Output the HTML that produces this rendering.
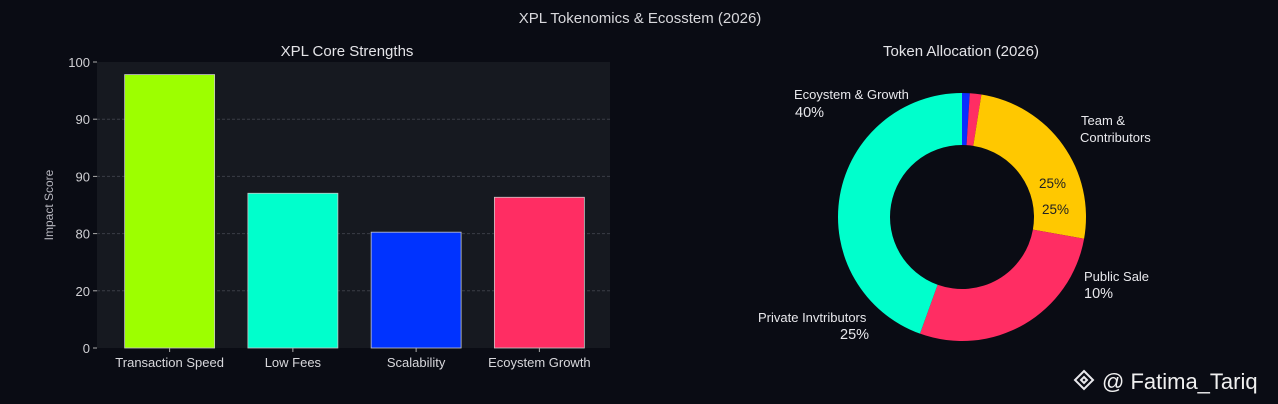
<!DOCTYPE html>
<html><head><meta charset="utf-8"><style>
html,body{margin:0;padding:0;background:#0a0c14;}
svg{display:block;font-family:"Liberation Sans",sans-serif;}
</style></head><body>
<svg id="c" width="1278" height="404" viewBox="0 0 1278 404">
<rect width="1278" height="404" fill="#0a0c14"/>
<text x="640" y="23" fill="#d8d8dc" font-size="15" text-anchor="middle">XPL Tokenomics &amp; Ecosstem (2026)</text>
<text x="347" y="56" fill="#e4e4e8" font-size="15" text-anchor="middle">XPL Core Strengths</text>
<rect x="97" y="62" width="513" height="286" fill="#161920"/>
<text transform="translate(53,205) rotate(-90)" fill="#b8b8c0" font-size="12" text-anchor="middle">Impact Score</text>
<g id="bars"></g>
<text x="961" y="56" fill="#e4e4e8" font-size="15" text-anchor="middle">Token Allocation (2026)</text>
<g id="donut"></g>
<text x="794" y="99" fill="#e8e8ec" font-size="13">Ecoystem &amp; Growth</text>
<text x="795" y="117" fill="#e8e8ec" font-size="14.5">40%</text>
<text x="1081" y="125" fill="#e8e8ec" font-size="13">Team &amp;</text>
<text x="1080" y="142" fill="#e8e8ec" font-size="13">Contributors</text>
<text x="1039" y="188" fill="#222" font-size="13.5">25%</text>
<text x="1042" y="214" fill="#222" font-size="13.5">25%</text>
<text x="1084" y="281" fill="#e8e8ec" font-size="13">Public Sale</text>
<text x="1084" y="298" fill="#e8e8ec" font-size="14.5">10%</text>
<text x="758" y="322" fill="#e8e8ec" font-size="13">Private Invtributors</text>
<text x="840" y="339" fill="#e8e8ec" font-size="14.5">25%</text>
<g>
<g transform="translate(1084,380)" fill="none" stroke="#e8e8ec" stroke-width="2"><path d="M0,-9 L9,0 L0,9 L-9,0 Z"/><path d="M0,-3 L3,0 L0,3 L-3,0 Z"/></g>
<text x="1102" y="389" fill="#f0f0f0" font-size="22">@ Fatima_Tariq</text>
</g>
</svg>
<script>
const categories=["Transaction Speed","Low Fees","Scalability","Ecoystem Growth"];
const scores=[95.6,54.1,40.5,52.7];
const barColors=["#9dff00","#00ffcc","#0033ff","#ff2d63"];
const tickValues=[0,20,40,60,80,100];
const tickLabels=["0","20","80","90","90","100"];
const sliceNames=["Blue","Pink small","Team & Contributors","Public Sale","Ecosystem & Growth"];
const sliceValues=[1,1.5,25.3,27.7,44.5];
const sliceColors=["#0a2cff","#ff2d63","#ffc800","#ff2d63","#00ffcc"];
const NS="http://www.w3.org/2000/svg";
function mk(t,a,p){const e=document.createElementNS(NS,t);for(const k in a)e.setAttribute(k,a[k]);p.appendChild(e);return e;}
const x0=97,x1=610,y0=348,y1=62;
const bx0=108,bx1=601;
const yS=v=>y0-(v/100)*(y0-y1);
const band=(bx1-bx0)/categories.length;
const xS=i=>bx0+band*i+band/2;
const g=document.getElementById('bars');
tickValues.forEach((v,i)=>{
  const y=yS(v);
  if(v>0&&v<100){const l=mk('line',{x1:x0,x2:x1,y1:y,y2:y,stroke:'#3a3d46','stroke-dasharray':'3,2','stroke-width':1},g);
  
  }
  const tk=mk('line',{x1:x0-4,x2:x0,y1:y,y2:y,stroke:'#aaa'},g);
  
  
  const t=mk('text',{x:x0-7,y:y+5,fill:'#d0d0d4','font-size':13,'text-anchor':'end'},g);
  t.textContent=tickLabels[i];
  
  
});
const bw=band*0.73;
categories.forEach((c,i)=>{
  const cx=xS(i);
  const r=mk('rect',{x:cx-bw/2,y:yS(scores[i]),width:bw,height:y0-yS(scores[i]),fill:barColors[i],stroke:'#c8c8c8','stroke-width':0.8},g);
  
  
  const tk=mk('line',{x1:cx,x2:cx,y1:y0,y2:y0+4,stroke:'#aaa'},g);
  
  
  const t=mk('text',{x:cx,y:y0+19,fill:'#d8d8dc','font-size':13,'text-anchor':'middle'},g);
  t.textContent=c;
  
  
});
const d=document.getElementById('donut');
const cx=962,cy=217,R=124,r0=72;
const total=sliceValues.reduce((a,b)=>a+b,0);
let acc=0;
const pt=(rad,a)=>[cx+rad*Math.sin(a),cy-rad*Math.cos(a)];
sliceValues.forEach((v,i)=>{
  const a0=acc/total*2*Math.PI;acc+=v;const a1=acc/total*2*Math.PI;
  const lg=(a1-a0)>Math.PI?1:0;
  const p1=pt(R,a0),p2=pt(R,a1),p3=pt(r0,a1),p4=pt(r0,a0);
  const p=mk('path',{d:`M${p1} A${R},${R} 0 ${lg} 1 ${p2} L${p3} A${r0},${r0} 0 ${lg} 0 ${p4} Z`,fill:sliceColors[i]},d);
  
  
});
</script>
</body></html>
